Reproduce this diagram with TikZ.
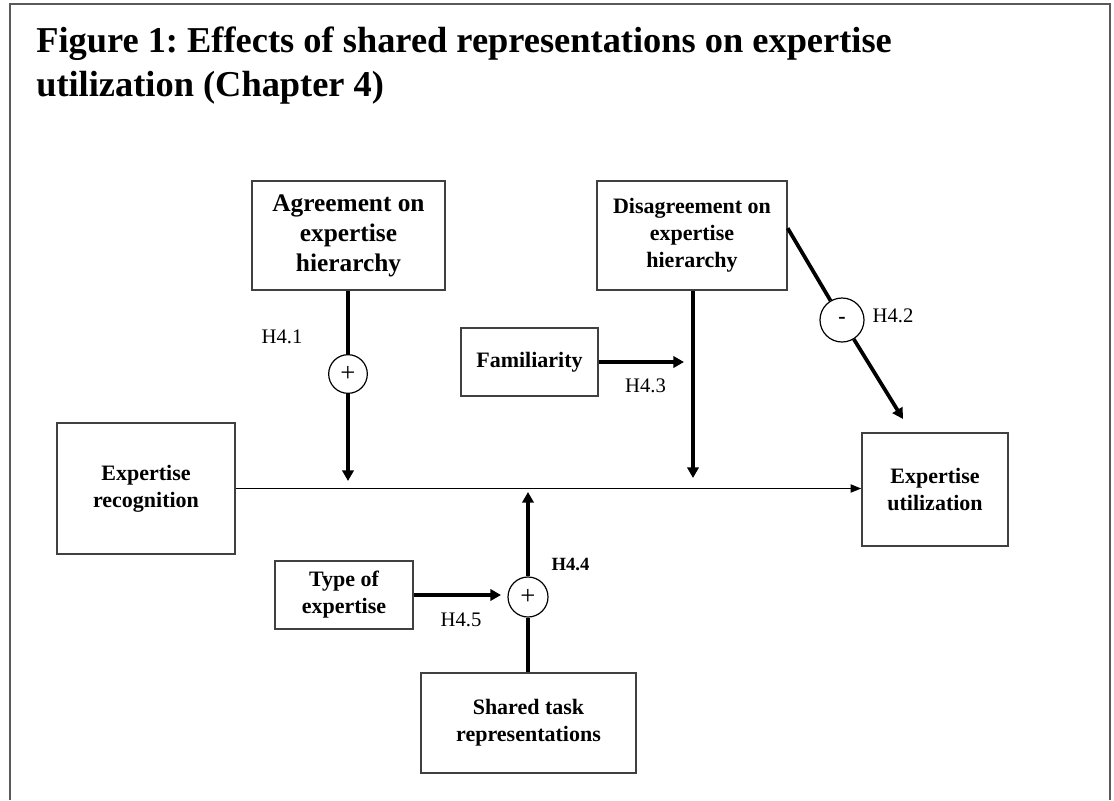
\documentclass[tikz,border=0pt]{standalone}
\usepackage{fontspec}
\setmainfont{Liberation Serif}
\usetikzlibrary{arrows.meta}
\definecolor{borderGray}{HTML}{404040}
\definecolor{frameGray}{HTML}{5A5A5A}
\frenchspacing

\begin{document}
\begin{tikzpicture}[
    x=0.75pt, y=-0.75pt,
    >={Triangle[length=8pt, width=8.5pt]},
    box/.style={
        draw=borderGray, line width=1pt, align=center, inner sep=2pt,
        font=\fontsize{16.5}{20.25}\selectfont\bfseries
    },
    bigBox/.style={box, font=\fontsize{19}{22.5}\selectfont\bfseries},
    signCircle/.style={draw=black, circle, line width=0.9pt, inner sep=0pt,
        minimum size=29pt, font=\fontsize{20}{20}\selectfont},
    hypLabel/.style={inner sep=0pt, font=\fontsize{15.5}{18}\selectfont},
    strongLine/.style={line width=2.8pt},
    thinLine/.style={line width=1.3pt, >={Triangle[length=8pt, width=6pt]}}
]
\useasboundingbox (0,0) rectangle (1114,800);

% outer frame
\draw[frameGray, line width=1.3pt] (10,800) -- (10,4) -- (1110,4) -- (1110,800);

\node[anchor=north west, inner sep=0pt, align=left,
    font=\fontsize{27.3}{33}\selectfont\bfseries] (title) at (36,27)
    {Figure 1: Effects of shared representations on expertise\\utilization (Chapter 4)};

\node[bigBox, minimum width=144.75pt, minimum height=81.75pt] (agree) at (348.5,235.5) {Agreement on\\expertise\\hierarchy};
\node[box, minimum width=142.5pt, minimum height=81.75pt] (disagree) at (692,235.5) {Disagreement on\\expertise\\hierarchy};
\node[box, minimum width=102.75pt, minimum height=51pt] (famil) at (529.5,362) {Familiarity};
\node[box, minimum width=133.5pt, minimum height=98.25pt] (recog) at (146,488.5) {Expertise\\recognition};
\node[box, minimum width=109.5pt, minimum height=84.75pt] (util) at (935,489.5) {Expertise\\utilization};
\node[box, minimum width=103.5pt, minimum height=51pt] (typeExp) at (344,595) {Type of\\expertise};
\node[box, minimum width=161.25pt, minimum height=75pt] (shared) at (528.5,723) {Shared task\\representations};

\node[signCircle] (plusA) at (348,374) {+};
\node[signCircle, minimum size=33pt, font=\fontsize{16.5}{16.5}\selectfont\bfseries] (minusB) at (842,320) {\raisebox{-2pt}{-}};
\node[signCircle, minimum size=30pt] (plusC) at (528,597) {+};

\node[hypLabel] (h41) at (282,336.5) {H4.1};
\node[hypLabel] (h42) at (893,316) {H4.2};
\node[hypLabel] (h43) at (645.5,386) {H4.3};
\node[hypLabel, font=\fontsize{14}{16}\selectfont\bfseries] (h44) at (570.5,564.5) {H4.4};
\node[hypLabel] (h45) at (461,620) {H4.5};

\coordinate (agreeTip) at (348,481);
\coordinate (disTip) at (693,478);
\coordinate (familTip) at (684,362);
\coordinate (utilTip) at (903,419);
\coordinate (sharedTip) at (528,492);
\coordinate (typeTip) at (501,595);

\draw[->, thinLine] (recog.east) -- (recog.east -| util.west);

\draw[strongLine] (agree.south -| plusA) -- (plusA.north);
\draw[->, strongLine] (plusA.south) -- (agreeTip);

\draw[->, strongLine] (disagree.south -| disTip) -- (disTip);
\draw[->, strongLine] (famil.east) -- (familTip);

\draw[strongLine] ([yshift=5.5pt]disagree.east) -- (minusB);
\draw[->, strongLine] (minusB) -- (utilTip);

\draw[strongLine] (shared.north -| plusC) -- (plusC.south);
\draw[->, strongLine] (plusC.north) -- (sharedTip);
\draw[->, strongLine] (typeExp.east) -- (typeTip);

\end{tikzpicture}
\end{document}
